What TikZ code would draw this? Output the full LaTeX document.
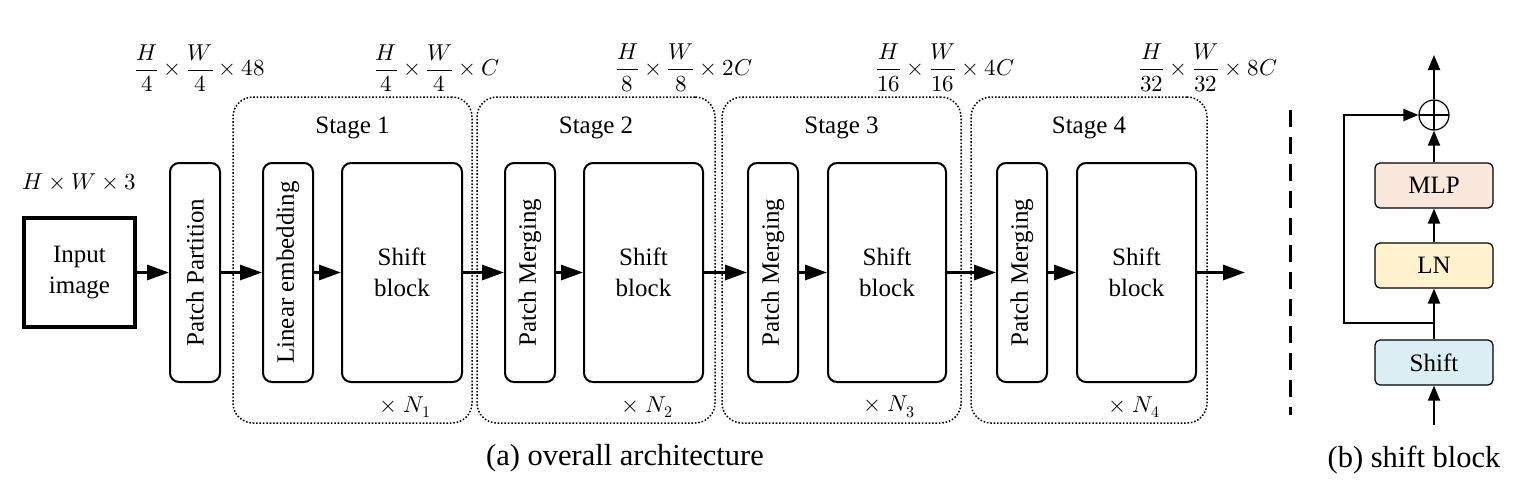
\documentclass[tikz,border=0pt]{standalone}
\usepackage{amsmath}
\usepackage{fontspec}
\usepackage{unicode-math}
\setmainfont{Liberation Serif}
\setmathfont{Latin Modern Math}
\usetikzlibrary{arrows.meta}
\newcommand\bodyfnt{\fontsize{25}{31}\selectfont}
\newcommand\capfnt{\fontsize{30.5}{36}\selectfont}
\newcommand\mathfnt{\fontsize{23}{28}\selectfont}
\definecolor{mlpfill}{HTML}{FBE8DC}
\definecolor{lnfill}{HTML}{FFF2CC}
\definecolor{shiftfill}{HTML}{DAEEF3}
\tikzset{
  blk/.style={draw, line width=2pt, rounded corners=9pt, inner sep=0pt, align=center, font=\bodyfnt, minimum height=219pt},
  thin blk/.style={blk, minimum width=50pt},
  wide blk/.style={blk, minimum width=119pt},
  stagebox/.style={draw, dash pattern=on 1.6pt off 1.8pt, line width=1.5pt, rounded corners=20pt, minimum height=326pt, inner sep=0pt},
  marr/.style={line width=3pt, -{Triangle[length=22pt,width=15pt]}},
  sarr/.style={line width=2pt, -{Triangle[length=15pt,width=12pt]}},
  sbox/.style={draw, line width=1.2pt, rounded corners=5pt, minimum width=118pt, minimum height=45pt, inner sep=0pt, font=\bodyfnt},
  dimlbl/.style={font=\mathfnt, inner sep=0pt},
  txtlbl/.style={font=\bodyfnt, inner sep=0pt},
}
\begin{document}
\begin{tikzpicture}[x=1pt,y=-1pt]
\useasboundingbox (0,0) rectangle (1516,488);

% stage boxes
\node[stagebox, minimum width=239pt] (st1) at (352.5,260) {};
\node[stagebox, minimum width=238pt] (st2) at (596,260) {};
\node[stagebox, minimum width=239pt] (st3) at (841.5,260) {};
\node[stagebox, minimum width=236pt] (st4) at (1089,260) {};
\node[txtlbl] (st1l) at (352.5,128) {Stage 1};
\node[txtlbl] (st2l) at (596,128) {Stage 2};
\node[txtlbl] (st3l) at (841.5,128) {Stage 3};
\node[txtlbl] (st4l) at (1089,128) {Stage 4};

% input
\node[draw, line width=3.5pt, minimum width=111pt, minimum height=109pt, inner sep=0pt, align=center, font=\bodyfnt] (in) at (79.5,272.5) {Input\\image};
\node[dimlbl] (d0) at (79.5,182) {$H\times W\times 3$};

% blocks
\node[thin blk] (pp) at (195,272.5) {\rotatebox{90}{Patch Partition}};
\node[thin blk] (le) at (288,272.5) {\rotatebox{90}{Linear embedding}};
\node[wide blk, minimum width=120pt] (sb1) at (402,272.5) {Shift\\block};
\node[thin blk] (pm2) at (530,272.5) {\rotatebox{90}{Patch Merging}};
\node[wide blk] (sb2) at (643.5,272.5) {Shift\\block};
\node[thin blk] (pm3) at (773,272.5) {\rotatebox{90}{Patch Merging}};
\node[wide blk, minimum width=118pt] (sb3) at (887,272.5) {Shift\\block};
\node[thin blk] (pm4) at (1022,272.5) {\rotatebox{90}{Patch Merging}};
\node[wide blk] (sb4) at (1136.5,272.5) {Shift\\block};
\coordinate (outA) at (1245,272.5);

\draw[marr] (in) -- (pp);
\draw[marr] (pp) -- (le);
\draw[marr] (le) -- (sb1);
\draw[marr] (sb1) -- (pm2);
\draw[marr] (pm2) -- (sb2);
\draw[marr] (sb2) -- (pm3);
\draw[marr] (pm3) -- (sb3);
\draw[marr] (sb3) -- (pm4);
\draw[marr] (pm4) -- (sb4);
\draw[marr] (sb4) -- (outA);

% repeat counts
\node[dimlbl] (n1) at (405,407) {$\times\mkern5mu N_1$};
\node[dimlbl] (n2) at (647,407) {$\times\mkern5mu N_2$};
\node[dimlbl] (n3) at (889,407) {$\times\mkern5mu N_3$};
\node[dimlbl] (n4) at (1134,407) {$\times\mkern5mu N_4$};

% dimension labels
\node[dimlbl] (d1) at (200,68) {$\dfrac{H}{4}\times\dfrac{W}{4}\times 48$};
\node[dimlbl] (d2) at (437,68) {$\dfrac{H}{4}\times\dfrac{W}{4}\times C$};
\node[dimlbl] (d3) at (684,68) {$\dfrac{H}{8}\times\dfrac{W}{8}\times 2C$};
\node[dimlbl] (d4) at (945,68) {$\dfrac{H}{16}\times\dfrac{W}{16}\times 4C$};
\node[dimlbl] (d5) at (1208,68) {$\dfrac{H}{32}\times\dfrac{W}{32}\times 8C$};

\node[font=\capfnt, inner sep=0pt] (capa) at (625,458) {(a) overall architecture};

% separator
\coordinate (sepT) at (1290,110);
\coordinate (sepB) at (1290,415);
\draw[line width=3pt, dash pattern=on 17pt off 10pt] (sepT) -- (sepB);

% shift block detail
\node[sbox, fill=shiftfill] (sh) at (1434,362.5) {Shift};
\node[sbox, fill=lnfill] (ln) at (1434,265.5) {LN};
\node[sbox, fill=mlpfill] (mlp) at (1434,185.5) {MLP};
\node[draw, circle, line width=1.2pt, minimum size=30pt, inner sep=0pt,
  path picture={\draw[line width=1.2pt] (path picture bounding box.north) -- (path picture bounding box.south) (path picture bounding box.west) -- (path picture bounding box.east);}] (plus) at (1434,115) {};
\coordinate (inB) at (1434,425);
\coordinate (outB) at (1434,55);
\coordinate (br) at (1434,323);
\coordinate (sk) at (1344,323);
\draw[sarr] (inB) -- (sh);
\draw[sarr] (sh) -- (ln);
\draw[sarr] (ln) -- (mlp);
\draw[sarr] (mlp) -- (plus);
\draw[sarr] (plus) -- (outB);
\draw[sarr] (br) -- (sk) |- (plus.west);

\node[font=\capfnt, inner sep=0pt] (capb) at (1414,460) {(b) shift block};
\end{tikzpicture}
\end{document}
